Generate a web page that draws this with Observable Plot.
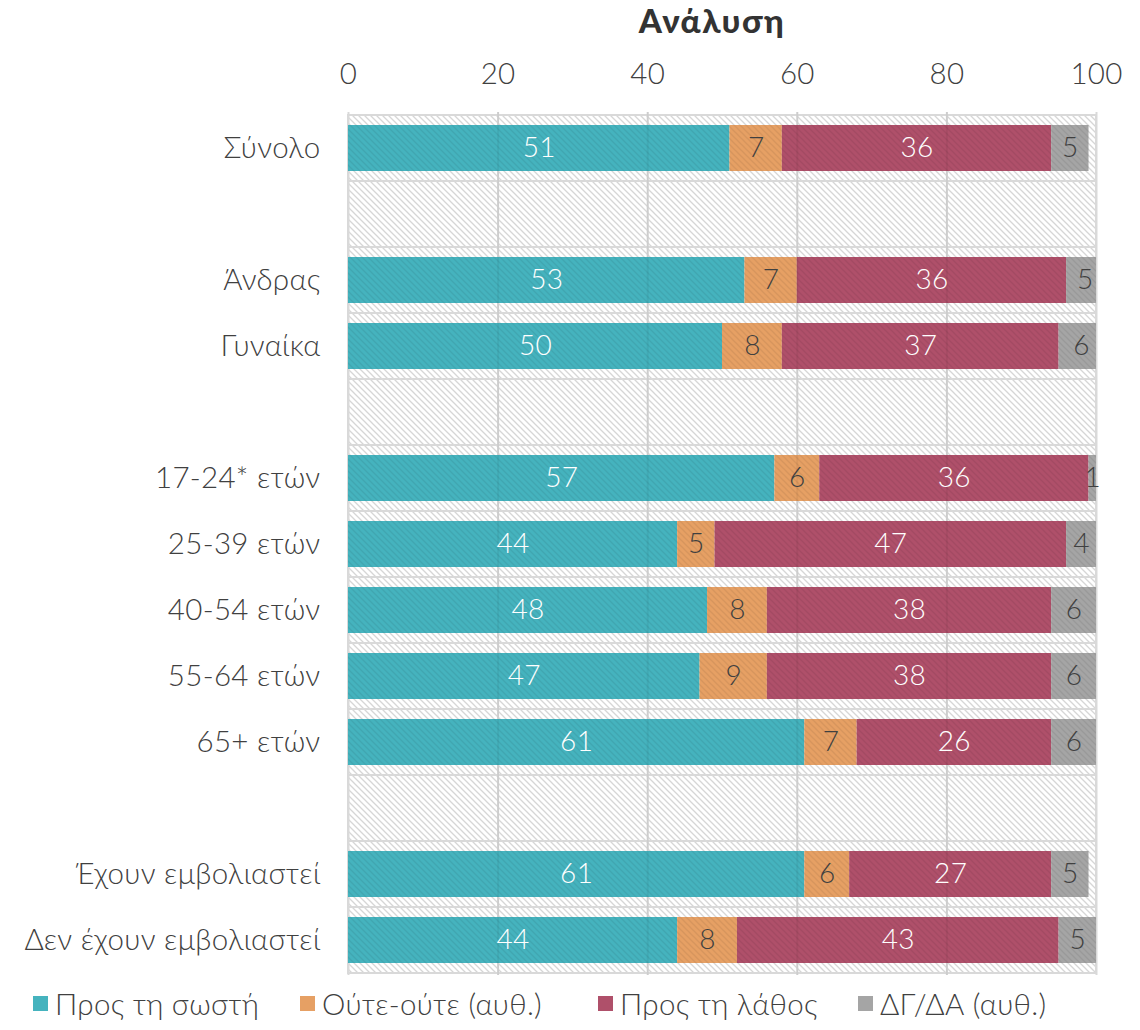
<!DOCTYPE html>
<html><head><meta charset="utf-8">
<script src="https://cdn.jsdelivr.net/npm/d3@7"></script>
<script src="https://cdn.jsdelivr.net/npm/@observablehq/plot@0.6"></script>
<style>
body{margin:0;background:#fff;font-family:Lato,"Noto Sans",sans-serif;color:#404040;}
#wrap{position:relative;width:1140px;height:1030px;overflow:hidden;}
#title{position:absolute;top:0px;left:0;width:1424px;text-align:center;font-size:33px;font-weight:900;letter-spacing:1.5px;color:#333;}
#chart{position:absolute;top:45px;left:0;line-height:0;}
#legend{position:absolute;top:986px;left:0;width:1140px;height:38px;}
.item{position:absolute;top:0;display:flex;align-items:center;font-size:29.5px;font-weight:300;letter-spacing:0.3px;white-space:nowrap;}
.sw{width:15px;height:15px;margin-right:7px;}
</style></head><body>
<div id="wrap"><div id="title">Ανάλυση</div><div id="chart"></div><div id="legend"></div></div>
<script>
const categories = ["Σύνολο","_gap1","Άνδρας","Γυναίκα","_gap2","17-24* ετών","25-39 ετών","40-54 ετών","55-64 ετών","65+ ετών","_gap3","Έχουν εμβολιαστεί","Δεν έχουν εμβολιαστεί"];
const groups = ["Σύνολο","Άνδρας","Γυναίκα","17-24* ετών","25-39 ετών","40-54 ετών","55-64 ετών","65+ ετών","Έχουν εμβολιαστεί","Δεν έχουν εμβολιαστεί"];
const series = ["Προς τη σωστή","Ούτε-ούτε (αυθ.)","Προς τη λάθος","ΔΓ/ΔΑ (αυθ.)"];
const colors = ["#45B3BE","#E6A064","#AF506A","#A5A5A5"];
const labelColors = ["#ffffff","#404040","#ffffff","#404040"];
const sosti  = [51,53,50,57,44,48,47,61,61,44];
const oute   = [7,7,8,6,5,8,9,7,6,8];
const lathos = [36,36,37,36,47,38,38,26,27,43];
const dgda   = [5,5,6,1,4,6,6,6,5,5];
const xTicks = [0,20,40,60,80,100];

const seriesValues = [sosti, oute, lathos, dgda];
const data = [];
groups.forEach((g,i)=>{
  series.forEach((s,j)=>{
    data.push({group:g, series:s, si:j, value:seriesValues[j][i]});
  });
});

const font = 'Lato,"Noto Sans",sans-serif';
const chart = Plot.plot({
  width:1140, height:938,
  marginTop:67, marginBottom:8, marginLeft:348, marginRight:44,
  style:{fontSize:"29.5px", fontFamily:font, fontWeight:300, letterSpacing:"0.3px", color:"#404040", background:"transparent"},
  x:{domain:[0,100], axis:"top", ticks:xTicks, tickSize:0, tickPadding:29, label:null, tickFormat:d=>String(d), fontSize:28},
  y:{domain:categories, padding:0, tickSize:0, tickPadding:28, label:null, tickFormat:d=>d.startsWith("_")?"":d},
  color:{type:"identity"},
  marks:[
    Plot.barX(categories, {x1:0, x2:100, y:d=>d, fill:"url(#hatchBg)", stroke:"#d9d9d9", strokeWidth:2}),
    Plot.ruleX(xTicks, {stroke:"#d9d9d9", strokeWidth:2}),
    Plot.barX(data, Plot.stackX({x:"value", y:"group", z:"series", fill:d=>colors[d.si], insetTop:10, insetBottom:10, clip:true})),
    Plot.barX(data, Plot.stackX({x:"value", y:"group", z:"series", fill:"url(#hatchBar)", insetTop:10, insetBottom:10, clip:true})),
    Plot.ruleX(xTicks.slice(1,-1), {stroke:"rgba(0,0,0,0.05)", strokeWidth:2}),
    Plot.text(data, Plot.stackX({x:"value", y:"group", z:"series", text:d=>String(d.value), fill:d=>labelColors[d.si], fontSize:28, fontFamily:font, fontWeight:300}))
  ]
});
const ns = "http://www.w3.org/2000/svg";
const defs = document.createElementNS(ns,"defs");
defs.innerHTML = `
<pattern id="hatchBg" patternUnits="userSpaceOnUse" width="6" height="6">
  <rect width="6" height="6" fill="#ffffff"/>
  <path d="M-1,-1 L7,7 M-1,5 L1,7 M5,-1 L7,1" stroke="#d6d6d6" stroke-width="1.3"/>
</pattern>
<pattern id="hatchBar" patternUnits="userSpaceOnUse" width="6" height="6">
  <path d="M-1,-1 L7,7 M-1,5 L1,7 M5,-1 L7,1" stroke="rgba(0,0,0,0.07)" stroke-width="1.3"/>
</pattern>`;
chart.insertBefore(defs, chart.firstChild);
document.getElementById("chart").appendChild(chart);

const legend = document.getElementById("legend");
const lefts = [33,300,598,858];
series.forEach((s,j)=>{
  const it = document.createElement("div");
  it.className="item"; it.style.left = lefts[j]+"px";
  it.innerHTML = `<span class="sw" style="background:${colors[j]}"></span><span>${s}</span>`;
  legend.appendChild(it);
});
</script></body></html>
